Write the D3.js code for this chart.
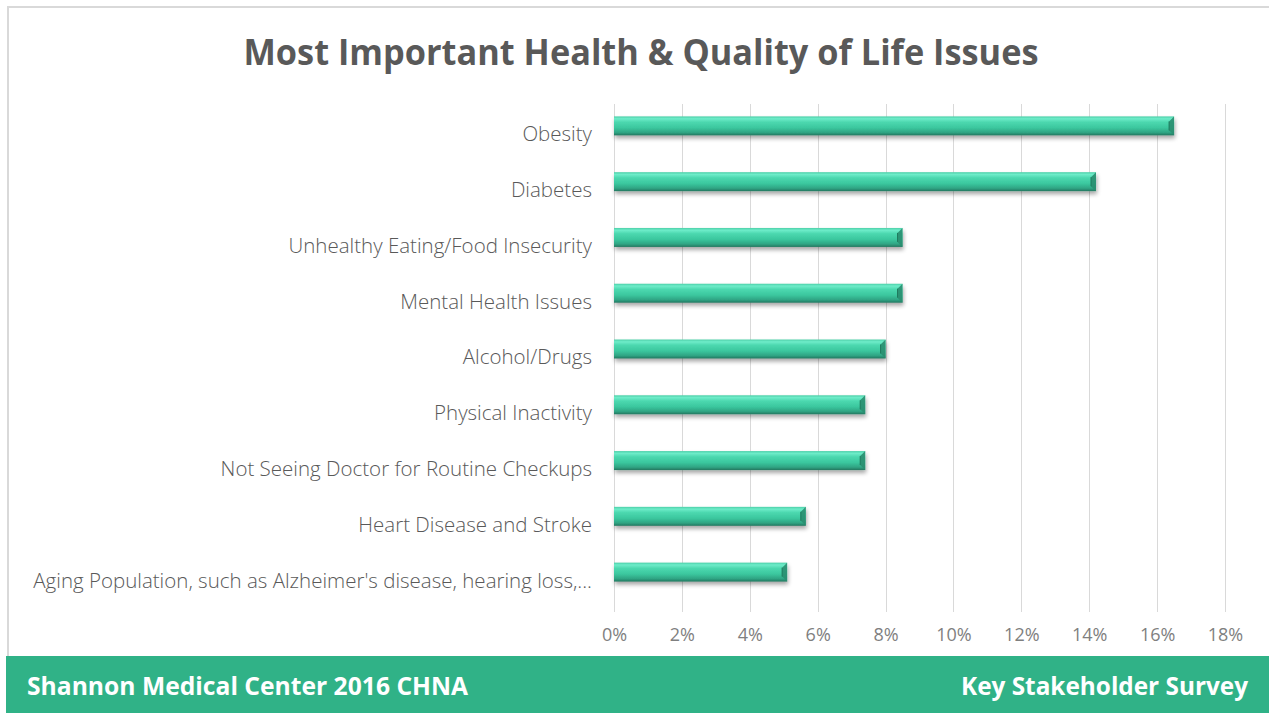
<!DOCTYPE html>
<html>
<head>
<meta charset="utf-8">
<script src="https://cdn.jsdelivr.net/npm/d3@7"></script>
<style>
  html, body { margin: 0; padding: 0; background: #fff; }
  svg { display: block; }
</style>
</head>
<body>
<svg id="chart" width="1269" height="713"></svg>
<script>
// data
const issues = [
  "Obesity",
  "Diabetes",
  "Unhealthy Eating/Food Insecurity",
  "Mental Health Issues",
  "Alcohol/Drugs",
  "Physical Inactivity",
  "Not Seeing Doctor for Routine Checkups",
  "Heart Disease and Stroke",
  "Aging Population, such as Alzheimer's disease, hearing loss,..."
];
const shares = [0.165, 0.142, 0.085, 0.085, 0.080, 0.074, 0.074, 0.0565, 0.051];
const tickValues = [0, 0.02, 0.04, 0.06, 0.08, 0.10, 0.12, 0.14, 0.16, 0.18];

const title = "Most Important Health & Quality of Life Issues";
const footerLeft = "Shannon Medical Center 2016 CHNA";
const footerRight = "Key Stakeholder Survey";

const svg = d3.select("#chart");
const W = 1269, H = 713;

const x = d3.scaleLinear().domain([0, 0.18]).range([614, 1225]);
const y = d3.scaleBand().domain(issues).range([98, 600]).paddingInner(0.66).paddingOuter(0.33);

// bar gradient (cylinder look)
const defs = svg.append("defs");
const grad = defs.append("linearGradient")
  .attr("id", "barGrad").attr("x1", 0).attr("y1", 0).attr("x2", 0).attr("y2", 1);
[["0%", "#4ccfa8"], ["12%", "#6eecc9"], ["30%", "#4cd8af"], ["60%", "#3bc79e"], ["85%", "#2fa483"], ["100%", "#23775f"]]
  .forEach(([o, c]) => grad.append("stop").attr("offset", o).attr("stop-color", c));

const shadow = defs.append("filter").attr("id", "shadow")
  .attr("x", "-5%").attr("y", "-50%").attr("width", "110%").attr("height", "250%");
shadow.append("feGaussianBlur").attr("in", "SourceAlpha").attr("stdDeviation", 2);
shadow.append("feOffset").attr("dx", 1).attr("dy", 3).attr("result", "blur");
shadow.append("feComponentTransfer").append("feFuncA").attr("type", "linear").attr("slope", 0.35);
const merge = shadow.append("feMerge");
merge.append("feMergeNode");
merge.append("feMergeNode").attr("in", "SourceGraphic");

// frame
svg.append("line").attr("x1", 8).attr("x2", W).attr("y1", 7).attr("y2", 7)
  .attr("stroke", "#d9d9d9").attr("stroke-width", 2);
svg.append("line").attr("x1", 8).attr("x2", 8).attr("y1", 6).attr("y2", 656)
  .attr("stroke", "#d9d9d9").attr("stroke-width", 2);

// title
svg.append("text")
  .attr("x", 641).attr("y", 65)
  .attr("text-anchor", "middle")
  .attr("fill", "#595959")
  .style("font-family", "'Open Sans', sans-serif")
  .style("font-weight", "bold")
  .style("font-size", "36px")
  .attr("textLength", 795)
  .attr("lengthAdjust", "spacingAndGlyphs")
  .text(title);

// gridlines
svg.append("g").selectAll("line").data(tickValues).join("line")
  .attr("x1", d => Math.round(x(d)) + 0.5).attr("x2", d => Math.round(x(d)) + 0.5)
  .attr("y1", 104).attr("y2", 612)
  .attr("stroke", "#d9d9d9").attr("stroke-width", 1);

// x axis labels
const xAxis = d3.axisBottom(x).tickValues(tickValues).tickFormat(d3.format(".0%")).tickSize(0).tickPadding(0);
const xg = svg.append("g").attr("transform", "translate(0,628)").call(xAxis);
xg.select(".domain").remove();
xg.selectAll("text")
  .attr("fill", "#7f7f7f")
  .style("font-family", "'Open Sans', sans-serif")
  .style("font-size", "18px");

// category labels (sit slightly below bar centre, as in the original)
const yAxis = d3.axisLeft(y).tickSize(0).tickPadding(0);
const yg = svg.append("g").attr("transform", "translate(592,8)").call(yAxis);
yg.select(".domain").remove();
yg.selectAll("text")
  .attr("fill", "#595959")
  .attr("dy", "0.36em")
  .style("font-family", "'Open Sans', sans-serif")
  .style("font-weight", "300")
  .style("font-size", "20.5px");

// bars
const rows = issues.map((k, i) => ({ k, v: shares[i] }));
const bars = svg.append("g").selectAll("g").data(rows).join("g");
bars.append("rect")
  .attr("x", x(0))
  .attr("y", d => y(d.k))
  .attr("width", d => x(d.v) - x(0))
  .attr("height", y.bandwidth())
  .attr("fill", "url(#barGrad)")
  .attr("filter", "url(#shadow)");
// bevelled end cap
bars.append("polygon")
  .attr("points", d => {
    const x1 = x(d.v), y0 = y(d.k), h = y.bandwidth(), b = 5;
    return [[x1 - b, y0 + b], [x1, y0], [x1, y0 + h], [x1 - b, y0 + h - b]].map(p => p.join(",")).join(" ");
  })
  .attr("fill", "#2a8e70")
  .attr("opacity", 0.9);
bars.append("line")
  .attr("x1", d => x(d.v) - 5).attr("x2", d => x(d.v) - 5)
  .attr("y1", d => y(d.k) + 5).attr("y2", d => y(d.k) + y.bandwidth() - 5)
  .attr("stroke", "#1f7a5e").attr("stroke-width", 1);

// footer band
svg.append("rect").attr("x", 6).attr("y", 656).attr("width", W - 6).attr("height", H - 656)
  .attr("fill", "#30b287");
svg.append("text")
  .attr("x", 27).attr("y", 695)
  .attr("fill", "#fff")
  .style("font-family", "'Open Sans', sans-serif")
  .style("font-weight", "bold")
  .style("font-size", "25px")
  .attr("textLength", 441)
  .attr("lengthAdjust", "spacingAndGlyphs")
  .text(footerLeft);
svg.append("text")
  .attr("x", 1248).attr("y", 695)
  .attr("text-anchor", "end")
  .attr("fill", "#fff")
  .style("font-family", "'Open Sans', sans-serif")
  .style("font-weight", "bold")
  .style("font-size", "25px")
  .attr("textLength", 287)
  .attr("lengthAdjust", "spacingAndGlyphs")
  .text(footerRight);
</script>
</body>
</html>
